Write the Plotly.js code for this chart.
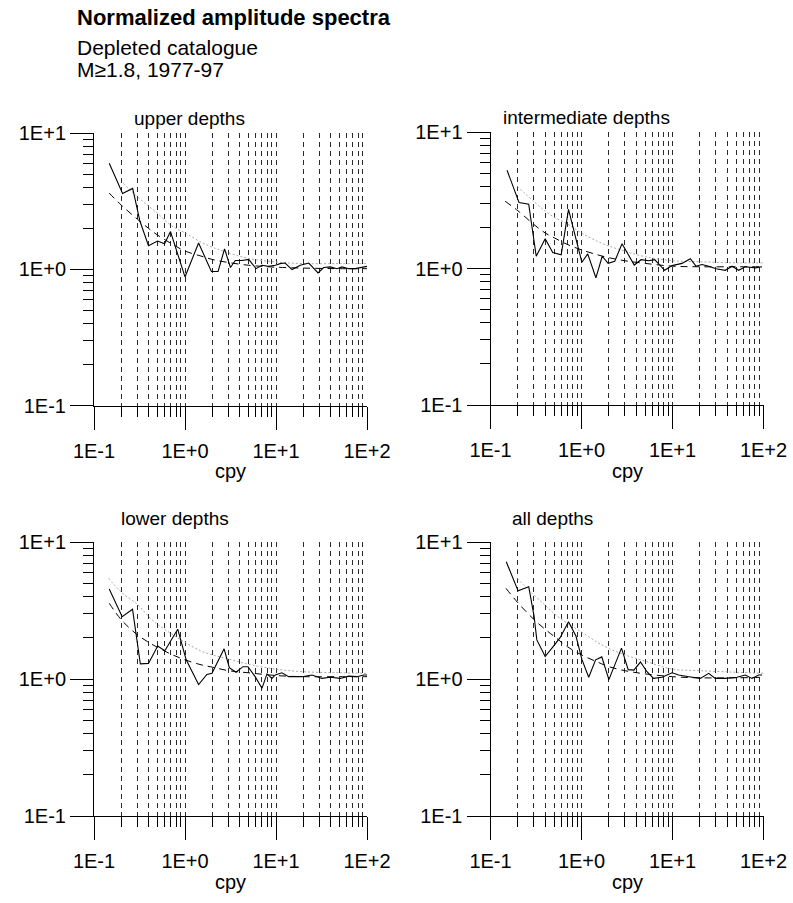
<!DOCTYPE html>
<html>
<head>
<meta charset="utf-8">
<script src="https://cdn.plot.ly/plotly-3.0.1.min.js"></script>
<style>html,body{margin:0;padding:0;background:#fff;}#chart{width:793px;height:903px;}</style>
</head>
<body>
<div id="chart"></div>
<script>
// ---------- data (frequency in cpy, normalized amplitude) ----------
const freqUpper = [0.147,0.206,0.266,0.32,0.397,0.499,0.596,0.693,1.0,1.41,1.95,2.31,2.72,3.16,3.57,4.23,5.01,6.03,7.01,8.31,9.82,11.1,12.6,15.0,18.5,22.9,29.0,33.4,39.5,46.8,53.1,63.0,74.3,88.1,100];
const ampUpper  = [5.99,3.60,3.92,2.25,1.49,1.61,1.54,1.89,0.878,1.56,0.963,0.963,1.41,1.03,1.16,1.16,1.18,1.01,1.07,1.05,1.07,1.10,1.11,0.995,1.07,1.11,0.94,1.03,1.04,1.01,1.04,1.01,1.01,1.04,1.05];
const fitFreqUpper = [0.147,0.2,0.3,0.4,0.5,0.7,1,1.5,2,3,5,7,10,20,50,100];
const fitUpper     = [3.62,2.95,2.33,1.99,1.78,1.55,1.36,1.25,1.18,1.12,1.07,1.05,1.035,1.02,1.01,1.01];
const limFreqUpper = [0.21,0.3,0.4,0.5,0.7,1,1.5,2,3,5,10,20,50,100];
const limUpper     = [4.27,3.4,2.9,2.57,2.1,1.85,1.58,1.45,1.32,1.2,1.13,1.10,1.10,1.10];

const freqInter = [0.152,0.206,0.263,0.318,0.399,0.483,0.598,0.72,1.01,1.17,1.44,1.69,1.96,2.32,2.79,3.80,4.51,5.47,6.37,8.20,9.88,12.7,15.7,18.1,21.1,25.0,30.1,38.0,45.1,53.4,63.1,81.3,96.3];
const ampInter  = [5.25,3.04,2.96,1.23,1.65,1.31,1.26,2.71,1.11,1.28,0.855,1.23,1.09,1.13,1.52,1.06,1.16,1.14,1.16,0.97,1.05,1.09,1.18,1.04,1.07,1.04,0.995,0.97,1.04,0.97,1.03,1.01,1.03];
const fitFreqInter = [0.145,0.2,0.3,0.4,0.5,0.7,1,1.5,2,3,5,10,20,50,100];
const fitInter     = [3.11,2.65,2.1,1.82,1.68,1.5,1.37,1.26,1.2,1.14,1.09,1.04,1.03,1.03,1.03];
const limFreqInter = [0.196,0.3,0.4,0.5,0.7,1,1.5,2,3,5,10,20,50,100];
const limInter     = [4.0,3.1,2.63,2.38,2.12,1.82,1.58,1.46,1.34,1.22,1.14,1.12,1.10,1.10];

const freqLower = [0.147,0.204,0.265,0.323,0.397,0.501,0.600,0.832,1.03,1.41,1.74,1.98,2.69,3.07,3.63,4.34,4.92,5.90,7.01,7.96,9.03,9.82,11.6,13.8,19.3,24.9,32.0,39.5,50.9,63.0,77.6,92.0,100];
const ampLower  = [4.54,2.85,3.23,1.29,1.30,1.74,1.61,2.31,1.38,0.91,1.08,1.10,1.66,1.21,1.12,1.23,1.23,1.04,0.855,1.09,1.01,1.07,1.11,1.04,1.04,1.07,1.01,1.03,1.01,1.05,1.04,1.07,1.07];
const fitFreqLower = [0.147,0.2,0.3,0.4,0.5,0.7,1,1.5,2,3,5,10,20,50,100];
const fitLower     = [3.57,2.7,2.1,1.85,1.7,1.52,1.38,1.27,1.22,1.15,1.11,1.06,1.04,1.04,1.04];
const limFreqLower = [0.145,0.2,0.3,0.4,0.5,0.7,1,1.5,2,3,5,10,20,50,100];
const limLower     = [5.43,4.3,3.5,2.85,2.5,2.15,1.85,1.6,1.5,1.4,1.28,1.18,1.13,1.11,1.10];

const freqAll = [0.149,0.201,0.263,0.301,0.323,0.399,0.483,0.584,0.720,0.871,1.01,1.20,1.43,1.67,2.00,2.75,3.26,3.76,4.45,5.24,6.18,7.67,9.88,11.7,15.1,20.2,25.0,29.5,38.0,51.2,63.1,74.8,88.5,96.4];
const ampAll  = [7.18,4.40,4.72,2.88,1.93,1.46,1.71,2.01,2.62,2.05,1.39,1.03,1.38,1.45,0.99,1.68,1.17,1.16,1.33,1.13,1.01,1.03,1.11,1.07,1.04,1.01,1.10,1.01,1.01,1.03,1.07,1.01,1.07,1.07];
const fitFreqAll = [0.148,0.2,0.3,0.4,0.5,0.7,1,1.5,2,3,5,10,20,50,100];
const fitAll     = [4.59,3.6,2.72,2.3,2.05,1.72,1.5,1.33,1.23,1.15,1.09,1.04,1.02,1.02,1.03];
const limFreqAll = [0.196,0.3,0.4,0.5,0.7,1,1.5,2,3,5,10,20,50,100];
const limAll     = [5.43,4.1,3.45,3.0,2.55,2.2,1.85,1.67,1.5,1.35,1.18,1.15,1.12,1.10];

// ---------- labels ----------
const panelTitles = ['upper depths','intermediate depths','lower depths','all depths'];
const xMajor = [0.1,1,10,100];
const xMajorText = ['1E-1','1E+0','1E+1','1E+2'];
const xMinor = [0.2,0.3,0.4,0.5,0.6,0.7,0.8,0.9,2,3,4,5,6,7,8,9,20,30,40,50,60,70,80,90];
const yMajor = [0.1,1,10];
const yMajorText = ['1E-1','1E+0','1E+1'];
const yMinor = [0.2,0.3,0.4,0.5,0.6,0.7,0.8,0.9,2,3,4,5,6,7,8,9];
const xTitle = 'cpy';
const mainTitle = 'Normalized amplitude spectra';
const subTitle1 = 'Depleted catalogue';
const subTitle2 = 'M\u22651.8, 1977-97';

// ---------- build ----------
const FONT = 'Arial, "Liberation Sans", Helvetica, sans-serif';
const W = 793, H = 903;
const panels = [
  {f: freqUpper, a: ampUpper, ff: fitFreqUpper, fa: fitUpper, lf: limFreqUpper, la: limUpper},
  {f: freqInter, a: ampInter, ff: fitFreqInter, fa: fitInter, lf: limFreqInter, la: limInter},
  {f: freqLower, a: ampLower, ff: fitFreqLower, fa: fitLower, lf: limFreqLower, la: limLower},
  {f: freqAll, a: ampAll, ff: fitFreqAll, fa: fitAll, lf: limFreqAll, la: limAll}
];
// pixel frames of the four plotting areas
const xDomains = [[94,367],[490.5,763.5],[94,367],[490.5,763.5]];
const yDomains = [[133,405.5],[132,405],[542,816],[542,816]];

const traces = [];
const layout = {
  width: W, height: H,
  margin: {l:0, r:0, t:0, b:0, pad: 0},
  paper_bgcolor: '#fff', plot_bgcolor: 'rgba(0,0,0,0)',
  showlegend: false,
  font: {family: FONT, color: '#000', size: 20},
  annotations: []
};

const ann = (text, xpx, ypx, size, anchor) => ({
  text: text, xref: 'paper', yref: 'paper', x: xpx / W, y: 1 - ypx / H,
  xanchor: anchor || 'left', yanchor: 'middle', showarrow: false,
  font: {family: FONT, size: size, color: '#000'}
});

panels.forEach((p, i) => {
  const n = i === 0 ? '' : String(i + 1);
  const xa = 'x' + n, ya = 'y' + n;
  traces.push({x: p.lf, y: p.la, xaxis: xa, yaxis: ya, mode: 'lines', line: {color: '#a8a8a8', width: 1, dash: '2px,2px', shape: 'spline', smoothing: 1}, hoverinfo: 'skip'});
  traces.push({x: p.ff, y: p.fa, xaxis: xa, yaxis: ya, mode: 'lines', line: {color: '#000', width: 1, dash: '7px,5px', shape: 'spline', smoothing: 1}, hoverinfo: 'skip'});
  traces.push({x: p.f, y: p.a, xaxis: xa, yaxis: ya, mode: 'lines', line: {color: '#000', width: 1.1}, hoverinfo: 'skip'});

  const xd = xDomains[i].map(v => v / W);
  const yd = [1 - yDomains[i][1] / H, 1 - yDomains[i][0] / H];
  layout['xaxis' + n] = {
    type: 'log', range: [-1, 2], domain: xd, anchor: ya,
    showline: true, linecolor: '#000', linewidth: 1, zeroline: false,
    tickmode: 'array', tickvals: xMajor, ticktext: xMajorText,
    ticks: 'outside', ticklen: 23, tickwidth: 1, tickcolor: '#000',
    ticklabelstandoff: 4,
    tickfont: {family: FONT, size: 20, color: '#000'},
    showgrid: true, gridcolor: '#2a2a2a', gridwidth: 1, griddash: '5px,4px',
    minor: {tickmode: 'array', tickvals: xMinor, ticks: 'outside', ticklen: 10, tickwidth: 1, tickcolor: '#000',
            showgrid: true, gridcolor: '#2a2a2a', gridwidth: 1, griddash: '5px,4px'},
    automargin: false,
    fixedrange: true
  };
  layout['yaxis' + n] = {
    type: 'log', range: [-1, 1], domain: yd, anchor: xa,
    showline: true, linecolor: '#000', linewidth: 1, zeroline: false,
    tickmode: 'array', tickvals: yMajor, ticktext: yMajorText,
    ticks: 'outside', ticklen: 23, tickwidth: 1, tickcolor: '#000',
    tickfont: {family: FONT, size: 20, color: '#000'},
    showgrid: false,
    minor: {tickmode: 'array', tickvals: yMinor, ticks: 'outside', ticklen: 10, tickwidth: 1, tickcolor: '#000', showgrid: false},
    automargin: false,
    fixedrange: true
  };
  // x-axis title (cpy), centred under the plotting area
  const cx = (xDomains[i][0] + xDomains[i][1]) / 2;
  layout.annotations.push(ann(xTitle, cx, yDomains[i][1] + 66, 20, 'center'));
});

// panel titles
const titlePos = [[132, 118.4], [501, 117.4], [119, 518.4], [510, 518.4]];
panelTitles.forEach((t, i) => {
  layout.annotations.push(ann(t, titlePos[i][0], titlePos[i][1], 19));
});
// main heading
layout.annotations.push(ann('<b>' + mainTitle + '</b>', 75, 17.4, 22));
layout.annotations.push(ann(subTitle1, 75, 47.6, 21));
layout.annotations.push(ann(subTitle2, 75, 69.6, 21));

Plotly.newPlot('chart', traces, layout, {displayModeBar: false, staticPlot: true});
</script>
</body>
</html>
